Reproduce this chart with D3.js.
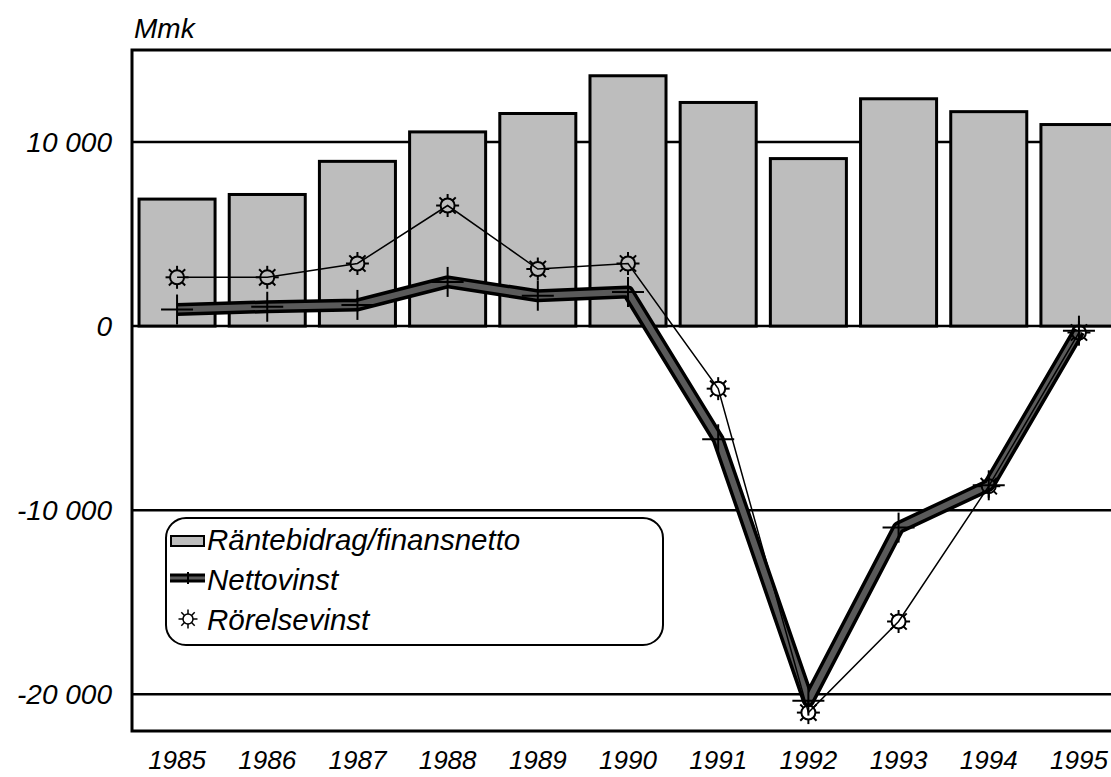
<!DOCTYPE html>
<html lang="sv">
<head>
<meta charset="UTF-8">
<title>Mmk 1985-1995</title>
<script src="https://d3js.org/d3.v7.min.js"></script>
<style>
  body { margin: 0; background: #fff; }
  svg text {
    font-family: 'Liberation Sans', Arial, sans-serif;
    font-style: italic;
    fill: #000;
  }
</style>
</head>
<body>
<div id="chart"></div>
<script>
  // data (Mmk)
  const years = [1985, 1986, 1987, 1988, 1989, 1990, 1991, 1992, 1993, 1994, 1995];
  const rantebidrag = [6900, 7150, 8950, 10550, 11550, 13600, 12150, 9100, 12350, 11650, 10950];
  const nettovinst = [900, 1050, 1150, 2400, 1650, 1850, -6150, -20350, -10950, -8650, -250];
  const rorelsevinst = [2650, 2650, 3400, 6550, 3100, 3400, -3400, -21000, -16050, -8700, -350];
  const yTicks = [10000, 0, -10000, -20000];
  const legendLabels = ['Räntebidrag/finansnetto', 'Nettovinst', 'Rörelsevinst'];

  const width = 1111, height = 777;
  const plotLeft = 132, plotTop = 50, plotBottom = 731, plotRight = 1124;

  const svg = d3.select('#chart').append('svg')
    .attr('width', width)
    .attr('height', height);

  const x = d3.scaleBand()
    .domain(years)
    .range([plotLeft, plotRight])
    .paddingInner(0.157)
    .paddingOuter(0.078);

  const y = d3.scaleLinear()
    .domain([-22000, 15000])
    .range([plotBottom, plotTop]);

  const barFill = '#bdbdbd';

  // grid lines (behind bars)
  svg.append('g').selectAll('line')
    .data(yTicks)
    .enter().append('line')
    .attr('x1', plotLeft).attr('x2', width)
    .attr('y1', d => y(d)).attr('y2', d => y(d))
    .attr('stroke', '#000')
    .attr('stroke-width', 2.5);

  // y labels
  const fmt = d => (d < 0 ? '-' : '') + d3.format(',')(Math.abs(d)).replace(/,/g, ' ');
  svg.append('g').selectAll('text')
    .data(yTicks)
    .enter().append('text')
    .attr('x', 112)
    .attr('y', d => y(d) + 10)
    .attr('text-anchor', 'end')
    .attr('font-size', 28)
    .text(fmt);

  // bars
  svg.append('g').selectAll('rect')
    .data(rantebidrag)
    .enter().append('rect')
    .attr('x', (d, i) => x(years[i]))
    .attr('y', d => y(d))
    .attr('width', x.bandwidth())
    .attr('height', d => y(0) - y(d))
    .attr('fill', barFill)
    .attr('stroke', '#000')
    .attr('stroke-width', 3);

  // frame
  svg.append('path')
    .attr('d', `M${width},${plotTop}H${plotLeft}V${plotBottom}H${width}`)
    .attr('fill', 'none')
    .attr('stroke', '#000')
    .attr('stroke-width', 3);

  const cx = i => x(years[i]) + x.bandwidth() / 2;

  // Nettovinst: thick dark band
  const line = d3.line()
    .x((d, i) => cx(i))
    .y(d => y(d));

  svg.append('path')
    .datum(nettovinst)
    .attr('d', line)
    .attr('fill', 'none')
    .attr('stroke', '#000')
    .attr('stroke-width', 13)
    .attr('stroke-linejoin', 'round');
  svg.append('path')
    .datum(nettovinst)
    .attr('d', line)
    .attr('fill', 'none')
    .attr('stroke', '#5a5a5a')
    .attr('stroke-width', 6)
    .attr('stroke-linejoin', 'round');

  // cross markers
  function cross(g, px, py) {
    g.append('line').attr('x1', px).attr('x2', px).attr('y1', py - 15).attr('y2', py + 15);
    g.append('line').attr('x1', px - 16).attr('x2', px + 16).attr('y1', py).attr('y2', py);
  }
  const crosses = svg.append('g').attr('stroke', '#000').attr('stroke-width', 2);
  nettovinst.forEach((d, i) => cross(crosses, cx(i), y(d)));

  // Rörelsevinst: thin line with sun markers
  svg.append('path')
    .datum(rorelsevinst)
    .attr('d', line)
    .attr('fill', 'none')
    .attr('stroke', '#000')
    .attr('stroke-width', 1.5);

  function sun(g, px, py, r) {
    const s = g.append('g').attr('transform', `translate(${px},${py})`);
    for (let k = 0; k < 8; k++) {
      const a = k * Math.PI / 4;
      s.append('line')
        .attr('x1', Math.cos(a) * r).attr('y1', Math.sin(a) * r)
        .attr('x2', Math.cos(a) * (r + 4.5)).attr('y2', Math.sin(a) * (r + 4.5));
    }
    s.append('circle').attr('r', r).attr('fill', 'none');
  }
  const suns = svg.append('g').attr('stroke', '#000').attr('stroke-width', 2);
  rorelsevinst.forEach((d, i) => sun(suns, cx(i), y(d), 7));

  // Mmk
  svg.append('text')
    .attr('x', 134)
    .attr('y', 38)
    .attr('font-size', 28)
    .text('Mmk');

  // year labels
  svg.append('g').selectAll('text')
    .data(years)
    .enter().append('text')
    .attr('x', d => x(d) + x.bandwidth() / 2)
    .attr('y', 769)
    .attr('text-anchor', 'middle')
    .attr('font-size', 26)
    .text(d => d);

  // legend
  const lg = svg.append('g');
  lg.append('rect')
    .attr('x', 166).attr('y', 518)
    .attr('width', 497).attr('height', 127)
    .attr('rx', 20)
    .attr('fill', '#fff')
    .attr('stroke', '#000')
    .attr('stroke-width', 2);

  const rowY = [550, 590, 630];
  legendLabels.forEach((t, i) => {
    lg.append('text')
      .attr('x', 207)
      .attr('y', rowY[i])
      .attr('font-size', 29.5)
      .text(t);
  });
  lg.append('rect')
    .attr('x', 171).attr('y', 536)
    .attr('width', 33).attr('height', 10)
    .attr('fill', barFill)
    .attr('stroke', '#000')
    .attr('stroke-width', 2);
  lg.append('line')
    .attr('x1', 170).attr('x2', 205)
    .attr('y1', 578).attr('y2', 578)
    .attr('stroke', '#000')
    .attr('stroke-width', 9);
  lg.append('line')
    .attr('x1', 170).attr('x2', 205)
    .attr('y1', 578).attr('y2', 578)
    .attr('stroke', '#5a5a5a')
    .attr('stroke-width', 3);
  const lgc = lg.append('g').attr('stroke', '#000').attr('stroke-width', 2);
  lgc.append('line').attr('x1', 188).attr('x2', 188).attr('y1', 572).attr('y2', 584);
  const lgs = lg.append('g').attr('stroke', '#000').attr('stroke-width', 1.5);
  sun(lgs, 188, 619, 5);
</script>
</body>
</html>
